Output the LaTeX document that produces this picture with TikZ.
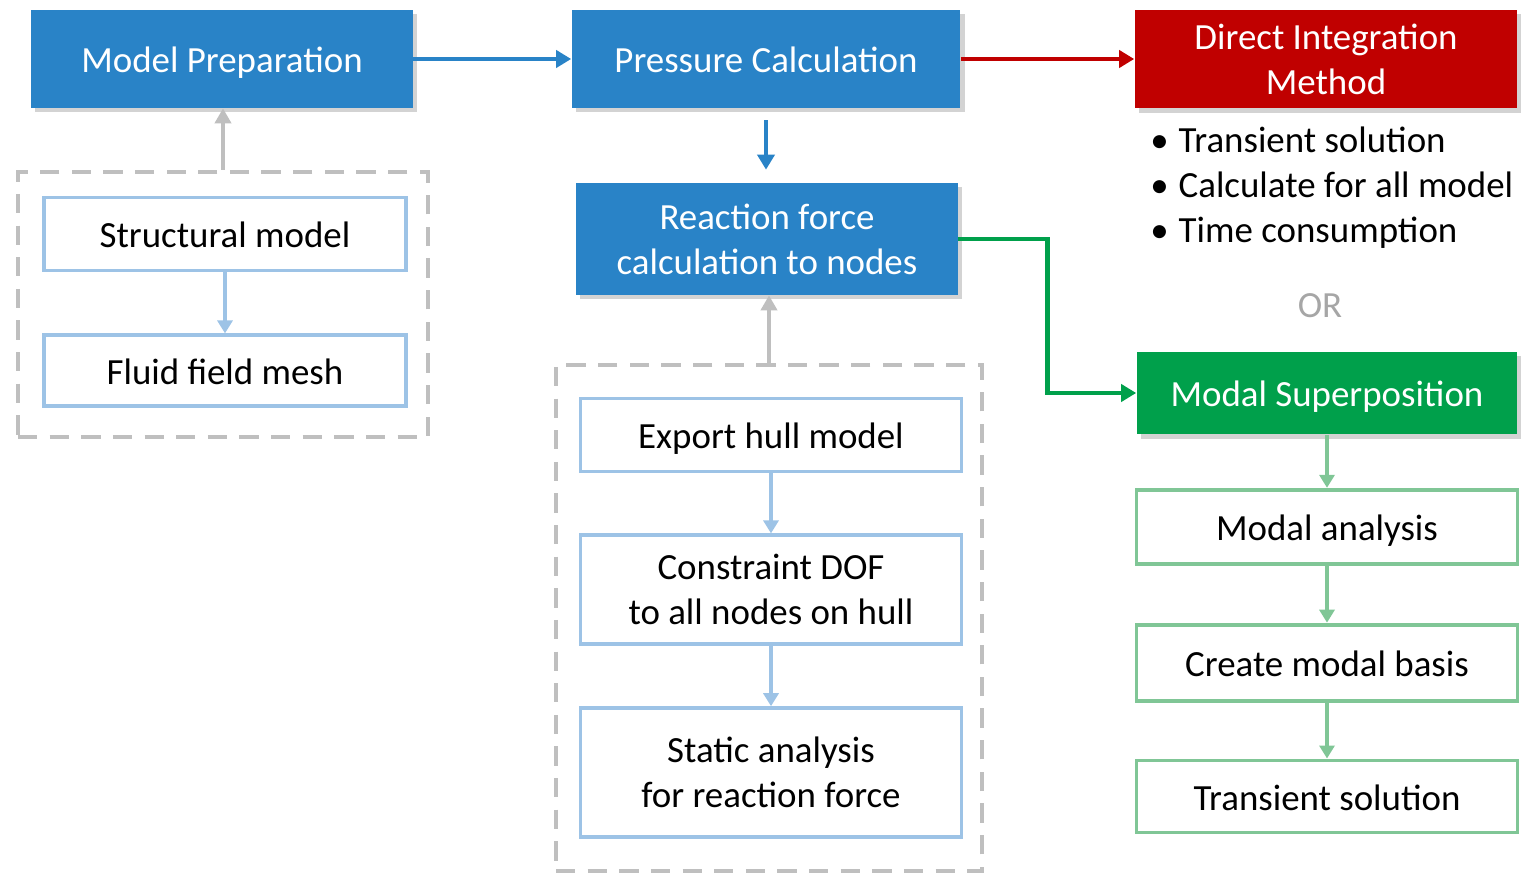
\documentclass[tikz,border=0pt]{standalone}
\usepackage{fontspec}
\setmainfont{Carlito}
\usepackage{tikz}
\usetikzlibrary{arrows.meta,positioning,fit,shadows}
\definecolor{headblue}{RGB}{41,131,199}
\definecolor{headred}{RGB}{192,0,0}
\definecolor{headgreen}{RGB}{0,160,75}
\definecolor{edgeblue}{RGB}{157,195,230}
\definecolor{edgegreen}{RGB}{128,198,150}
\definecolor{softgray}{RGB}{191,191,191}
\definecolor{orgray}{RGB}{166,166,166}

\begin{document}
\begin{tikzpicture}[
  x=0.02cm, y=-0.02cm,
  every node/.style={font=\fontsize{21}{25.6}\selectfont},
  oneline/.style={text height=15.5pt, text depth=0pt},
  head/.style={fill=#1, text=white, align=center, inner sep=0pt, minimum width=7.64cm, minimum height=1.96cm,
    drop shadow={shadow xshift=2.5pt, shadow yshift=-2.5pt, opacity=0.35}},
  sub/.style={draw=#1, line width=2.2pt, fill=white, align=center, inner sep=0pt, minimum width=7.62cm, minimum height=1.46cm},
  dashgroup/.style={draw=softgray, line width=2.3pt, dash pattern=on 11pt off 7pt, inner sep=0pt},
  flow/.style={draw=#1, line width=2.6pt, -{Triangle[length=0.3cm, width=0.34cm]}},
  feed/.style={draw=#1, line width=2.4pt, -{Triangle[length=0.26cm, width=0.3cm]}},
  back/.style={draw=softgray, line width=2.8pt, -{Triangle[length=0.3cm, width=0.32cm]}}
]
\useasboundingbox (0,0) rectangle (1521,874);

% main stages
\node[head=headblue, oneline] (prep) at (222,59) {Model Preparation};
\node[head=headblue, oneline, minimum width=7.78cm] (press) at (766,59) {Pressure Calculation};
\node[head=headred, minimum width=7.66cm, minimum height=1.98cm] (direct) at (1326,59) {Direct Integration\\Method};
\node[head=headblue, minimum height=2.24cm] (react) at (767,239) {Reaction force\\calculation to nodes};
\node[head=headgreen, oneline, minimum width=7.62cm, minimum height=1.66cm] (modsup) at (1327,393) {Modal Superposition};

% model inputs
\node[sub=edgeblue, oneline, minimum width=7.24cm] (struct) at (225,234) {Structural model};
\node[sub=edgeblue, oneline, minimum width=7.24cm, minimum height=1.42cm, below=1.22cm of struct] (fluid) {Fluid field mesh};
\node[dashgroup, fit={(18,172) (428,437)}] (leftgrp) {};

% hull steps
\node[sub=edgeblue, oneline] (export) at (771,435) {Export hull model};
\node[sub=edgeblue, minimum height=2.18cm, below=1.2cm of export] (constr) {Constraint DOF\\to all nodes on hull};
\node[sub=edgeblue, minimum height=2.58cm, below=1.2cm of constr] (static) {Static analysis\\for reaction force};
\node[dashgroup, fit={(556,365) (982,871)}] (midgrp) {};

% modal steps
\node[sub=edgegreen, oneline, minimum height=1.48cm, below=1.06cm of modsup] (modal) {Modal analysis};
\node[sub=edgegreen, oneline, minimum height=1.52cm, below=1.14cm of modal] (basis) {Create modal basis};
\node[sub=edgegreen, oneline, minimum height=1.44cm, below=1.12cm of basis] (trans) {Transient solution};

% notes
\node[anchor=west, align=left, inner sep=0pt] (notes) at (1150,188)
  {\textbullet\hspace{0.2cm}Transient solution\\\textbullet\hspace{0.2cm}Calculate for all model\\\textbullet\hspace{0.2cm}Time consumption};
\node[text=orgray] (or) at (1320,306) {OR};

\draw[flow=headblue] (prep) -- (press);
\draw[flow=headred] (press) -- (direct);
\draw[flow=headblue, shorten <=0.24cm, shorten >=0.26cm] (press.south) -- (press.south |- react.north);
\draw[flow=headgreen] (react.east) -- ++(89,0) |- (modsup.west);
\draw[back] (leftgrp.north) -- (leftgrp.north |- prep.south);
\draw[back] (midgrp.north) -- (midgrp.north |- react.south);
\draw[feed=edgeblue] (struct) -- (fluid);
\draw[feed=edgeblue] (export) -- (constr);
\draw[feed=edgeblue] (constr) -- (static);
\draw[feed=edgegreen] (modsup) -- (modal);
\draw[feed=edgegreen] (modal) -- (basis);
\draw[feed=edgegreen] (basis) -- (trans);
\end{tikzpicture}
\end{document}
